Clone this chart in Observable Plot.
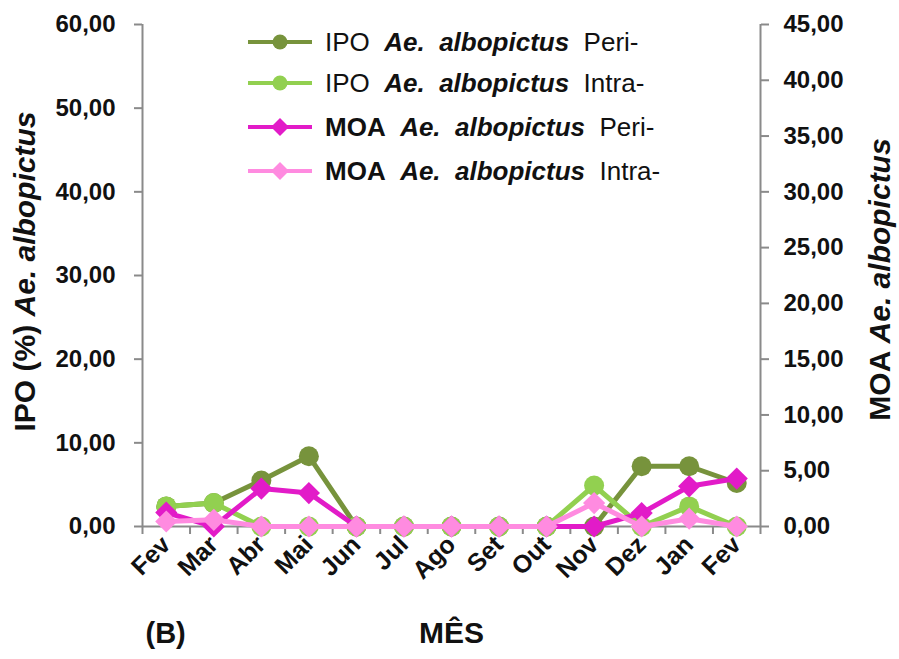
<!DOCTYPE html>
<html><head><meta charset="utf-8">
<script src="https://cdn.jsdelivr.net/npm/d3@7"></script>
<script src="https://cdn.jsdelivr.net/npm/@observablehq/plot@0.6"></script>
<style>
body{margin:0;background:#fff;font-family:Arial,"Liberation Sans",sans-serif;}
#wrap{position:relative;width:899px;height:659px;overflow:hidden;}
#legend{position:absolute;left:0;top:0;}
.row{position:absolute;left:248px;height:40px;display:flex;align-items:center;font-size:26px;color:#111;white-space:pre;}
.row svg{margin-right:13px;}
.sp{font-style:italic;font-weight:bold;}
.b{font-weight:bold;}
</style></head><body>
<div id="wrap"><div id="chart"></div><div id="legend"></div></div>
<script>
const months = ["Fev","Mar","Abr","Mai","Jun","Jul","Ago","Set","Out","Nov","Dez","Jan","Fev"];
const ipoPeri  = [2.4, 2.8, 5.5, 8.4, 0, 0, 0, 0, 0, 0, 7.2, 7.2, 5.2];
const ipoIntra = [2.4, 2.8, 0, 0, 0, 0, 0, 0, 0, 4.9, 0, 2.4, 0];
const moaPeri  = [1.25, 0, 3.4, 3.0, 0, 0, 0, 0, 0, 0, 1.2, 3.6, 4.3];
const moaIntra = [0.45, 0.6, 0, 0, 0, 0, 0, 0, 0, 2.1, 0, 0.7, 0];
const seriesNames = ["IPO Peri","IPO Intra","MOA Peri","MOA Intra"];
const seriesColors = ["#77933C","#92D050","#E21BC8","#FF8BE0"];
const leftTicks = [0,10,20,30,40,50,60];
const rightTicks = [0,5,10,15,20,25,30,35,40,45];

const leftMax = 60, rightMax = 45;
const toLeft = v => v * leftMax / rightMax;
const fmt = v => (Math.round(v*100)/100).toFixed(2).replace(".", ",");

const series = [
  {name: seriesNames[0], values: ipoPeri,  axis: "left",  symbol: "circle"},
  {name: seriesNames[1], values: ipoIntra, axis: "left",  symbol: "circle"},
  {name: seriesNames[2], values: moaPeri,  axis: "right", symbol: "diamond2"},
  {name: seriesNames[3], values: moaIntra, axis: "right", symbol: "diamond2"}
];

const seriesMarks = series.flatMap((s, k) => {
  const rows = s.values.map((v, i) => ({i, v, y: s.axis === "left" ? v : toLeft(v)}));
  return [
    Plot.line(rows, {x: "i", y: "y", stroke: seriesColors[k], strokeWidth: 5}),
    Plot.dot(rows, {x: "i", y: "y", symbol: s.symbol, r: 10, fill: seriesColors[k], stroke: "none"})
  ];
});

const font = {fontSize: 24, fontWeight: "bold", fill: "#111"};
const chart = Plot.plot({
  width: 899, height: 659,
  marginLeft: 142, marginRight: 139, marginTop: 24, marginBottom: 133,
  style: {fontFamily: "Arial, 'Liberation Sans', sans-serif", background: "#fff", overflow: "visible"},
  x: {type: "linear", domain: [-0.5, months.length - 0.5]},
  y: {domain: [0, leftMax]},
  marks: [
    Plot.ruleX([-0.5], {stroke: "#8a8a8a", strokeWidth: 2}),
    Plot.ruleX([months.length - 0.5], {stroke: "#8a8a8a", strokeWidth: 2}),
    Plot.ruleY([0], {stroke: "#8a8a8a", strokeWidth: 2}),
    Plot.axisY(leftTicks, {anchor: "left", tickSize: 8, tickPadding: 19, stroke: "#8a8a8a", strokeWidth: 2, tickFormat: fmt, label: null, ...font}),
    Plot.axisY(rightTicks.map(toLeft), {anchor: "right", tickSize: 8, tickPadding: 15, stroke: "#8a8a8a", strokeWidth: 2, tickFormat: d => fmt(d * rightMax / leftMax), label: null, ...font}),
    Plot.axisX(d3.range(-0.5, months.length, 1), {anchor: "bottom", tickSize: 8, stroke: "#8a8a8a", strokeWidth: 2, tickFormat: () => "", label: null}),
    Plot.axisX(d3.range(months.length), {anchor: "bottom", tickSize: 0, tickPadding: 14, tickRotate: -45, tickFormat: i => months[i], label: null, ...font, fontSize: 25}),
    ...seriesMarks,
    Plot.text(["IPO (%) Ae. albopictus"], {frameAnchor: "left", textAnchor: "middle", dx: -117, dy: -4, rotate: -90, fontSize: 30, fontWeight: "bold", fill: "#111"}),
    Plot.text(["MOA Ae. albopictus"], {frameAnchor: "right", textAnchor: "middle", dx: 120, dy: 4, rotate: -90, fontSize: 30, fontWeight: "bold", fill: "#111"}),
    Plot.text(["MÊS"], {frameAnchor: "bottom", textAnchor: "middle", dy: 116, fontSize: 30, fontWeight: "bold", fill: "#111"}),
    Plot.text(["(B)"], {frameAnchor: "bottom-left", textAnchor: "start", dx: 3, dy: 116, fontSize: 29, fontWeight: "bold", fill: "#111"})
  ]
});
document.getElementById("chart").appendChild(chart);

// italic species names inside the axis titles
d3.select(chart).selectAll("text").each(function() {
  const t = d3.select(this);
  const s = t.text();
  if (s === "IPO (%) Ae. albopictus" || s === "MOA Ae. albopictus") {
    const pre = s.replace("Ae. albopictus", "");
    t.text(null);
    t.append("tspan").text(pre);
    t.append("tspan").attr("font-style", "italic").text("Ae. albopictus");
  }
});

// legend
const legendCenters = [42, 83, 127, 171];
const prefixes = ["IPO", "IPO", "MOA", "MOA"];
const suffixes = ["Peri-", "Intra-", "Peri-", "Intra-"];
const leg = document.getElementById("legend");
series.forEach((s, k) => {
  const row = document.createElement("div");
  row.className = "row";
  row.style.top = (legendCenters[k] - 20) + "px";
  const c = seriesColors[k];
  const marker = s.symbol === "circle"
    ? `<circle cx="32" cy="20" r="7.5" fill="${c}"/>`
    : `<path d="M32,11 L41,20 L32,29 L23,20Z" fill="${c}"/>`;
  const pfx = prefixes[k] === "MOA" ? `<span class="b">${prefixes[k]}</span>` : `<span>${prefixes[k]}</span>`;
  row.innerHTML = `<svg width="64" height="40"><line x1="0" y1="20" x2="64" y2="20" stroke="${c}" stroke-width="4"/>${marker}</svg>${pfx}<span>  </span><span class="sp">Ae.  albopictus</span><span>  ${suffixes[k]}</span>`;
  leg.appendChild(row);
});
</script>
</body></html>
